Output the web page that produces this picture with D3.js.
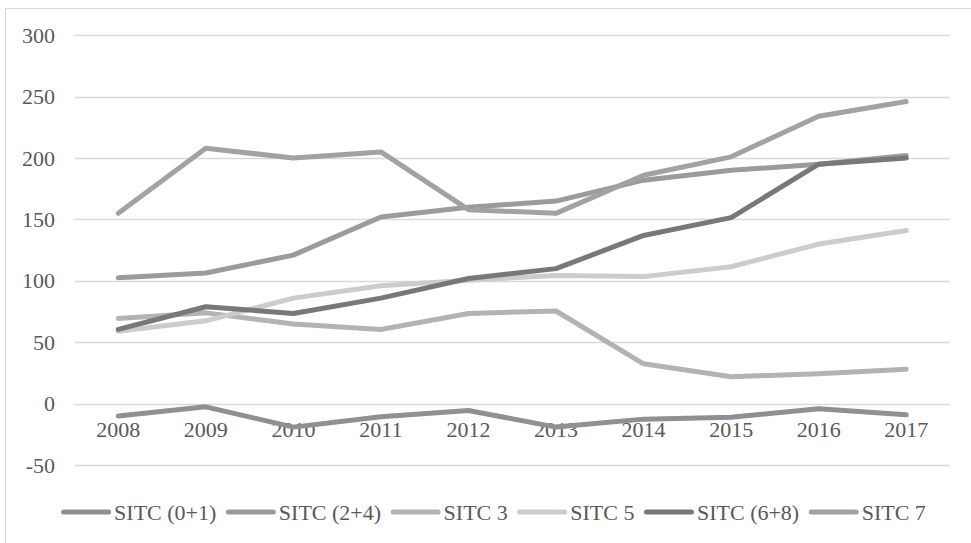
<!DOCTYPE html>
<html>
<head>
<meta charset="utf-8">
<script src="https://cdn.jsdelivr.net/npm/d3@7"></script>
<style>
  html, body { margin: 0; padding: 0; background: #fff; }
  svg { display: block; }
  text { font-family: "Liberation Serif", "Times New Roman", serif; fill: #595959; }
</style>
</head>
<body>
<svg id="chart" width="971" height="543"></svg>
<script>
const years = ["2008","2009","2010","2011","2012","2013","2014","2015","2016","2017"];
const seriesNames = ["SITC (0+1)", "SITC (2+4)", "SITC 3", "SITC 5", "SITC (6+8)", "SITC 7"];
const sitc01 = [-10, -2.5, -19, -10.5, -5.5, -19, -12.5, -11, -4, -9];
const sitc24 = [102.5, 106.5, 121, 152, 160, 165, 182, 190, 195, 202];
const sitc3  = [69.5, 74, 65, 60.5, 73.5, 75.5, 32.5, 22, 24.5, 28];
const sitc5  = [59, 67.5, 86, 96, 100.5, 104.5, 103.5, 111.5, 130, 141];
const sitc68 = [60.5, 79, 73.5, 86, 102, 110, 137, 151.5, 195, 200];
const sitc7  = [155, 208, 200, 205, 158, 155, 186, 201, 234, 246];
const yTicks = [-50, 0, 50, 100, 150, 200, 250, 300];

const seriesValues = [sitc01, sitc24, sitc3, sitc5, sitc68, sitc7];
const colors = ["#909090", "#9b9b9b", "#b3b3b3", "#cccccc", "#787878", "#a2a2a2"];

const svg = d3.select("#chart");

// outer border
svg.append("rect")
  .attr("x", 5.5).attr("y", 8.5)
  .attr("width", 990).attr("height", 560)
  .attr("fill", "none").attr("stroke", "#d9d9d9").attr("stroke-width", 1);

const x = d3.scaleBand().domain(years).range([74.5, 950]);
const y = d3.scaleLinear().domain([-50, 300]).range([465.2, 35.2]);

// gridlines
const grid = svg.append("g");
grid.selectAll("line").data(yTicks).enter().append("line")
  .attr("x1", x.range()[0]).attr("x2", x.range()[1])
  .attr("y1", d => Math.round(y(d)) + 0.5).attr("y2", d => Math.round(y(d)) + 0.5)
  .attr("stroke", "#d9d9d9").attr("stroke-width", 1.3);

// y axis labels
const yAxis = d3.axisLeft(y).tickValues(yTicks).tickSize(0).tickPadding(0)
  .tickFormat(d => String(d));
const yg = svg.append("g").attr("transform", "translate(55,0)").call(yAxis);
yg.select(".domain").remove();
yg.selectAll("text").style("font-size", "22px").attr("fill", "#595959")
  .style("font-family", "'Liberation Serif', serif");

// x axis labels at zero
const xAxis = d3.axisBottom(x).tickSize(0).tickPadding(18);
const xg = svg.append("g").attr("transform", `translate(0,${y(0)})`).call(xAxis);
xg.select(".domain").remove();
xg.selectAll("text").style("font-size", "22px").attr("fill", "#595959")
  .style("font-family", "'Liberation Serif', serif");

// lines
const line = d3.line()
  .x((d, i) => x(years[i]) + x.bandwidth() / 2)
  .y(d => y(d));

seriesValues.forEach((vals, i) => {
  svg.append("path")
    .datum(vals)
    .attr("d", line)
    .attr("fill", "none")
    .attr("stroke", colors[i])
    .attr("stroke-width", 5)
    .attr("stroke-linejoin", "round")
    .attr("stroke-linecap", "round");
});

// legend
const legend = svg.append("g");
const legendY = 512;
let items = [];
seriesNames.forEach((name, i) => {
  const g = legend.append("g");
  g.append("line")
    .attr("x1", 2.5).attr("x2", 47.5)
    .attr("y1", legendY).attr("y2", legendY)
    .attr("stroke", colors[i]).attr("stroke-width", 5)
    .attr("stroke-linecap", "round");
  const t = g.append("text")
    .attr("x", 53).attr("y", legendY)
    .attr("dy", "0.35em")
    .style("font-size", "22px")
    .text(name);
  items.push({g, w: 53 + t.node().getComputedTextLength()});
});
const gap = 9.5;
const total = d3.sum(items, d => d.w) + gap * (items.length - 1);
let cx = (62 + 925) / 2 - total / 2;
items.forEach(it => {
  it.g.attr("transform", `translate(${cx},0)`);
  cx += it.w + gap;
});
</script>
</body>
</html>
